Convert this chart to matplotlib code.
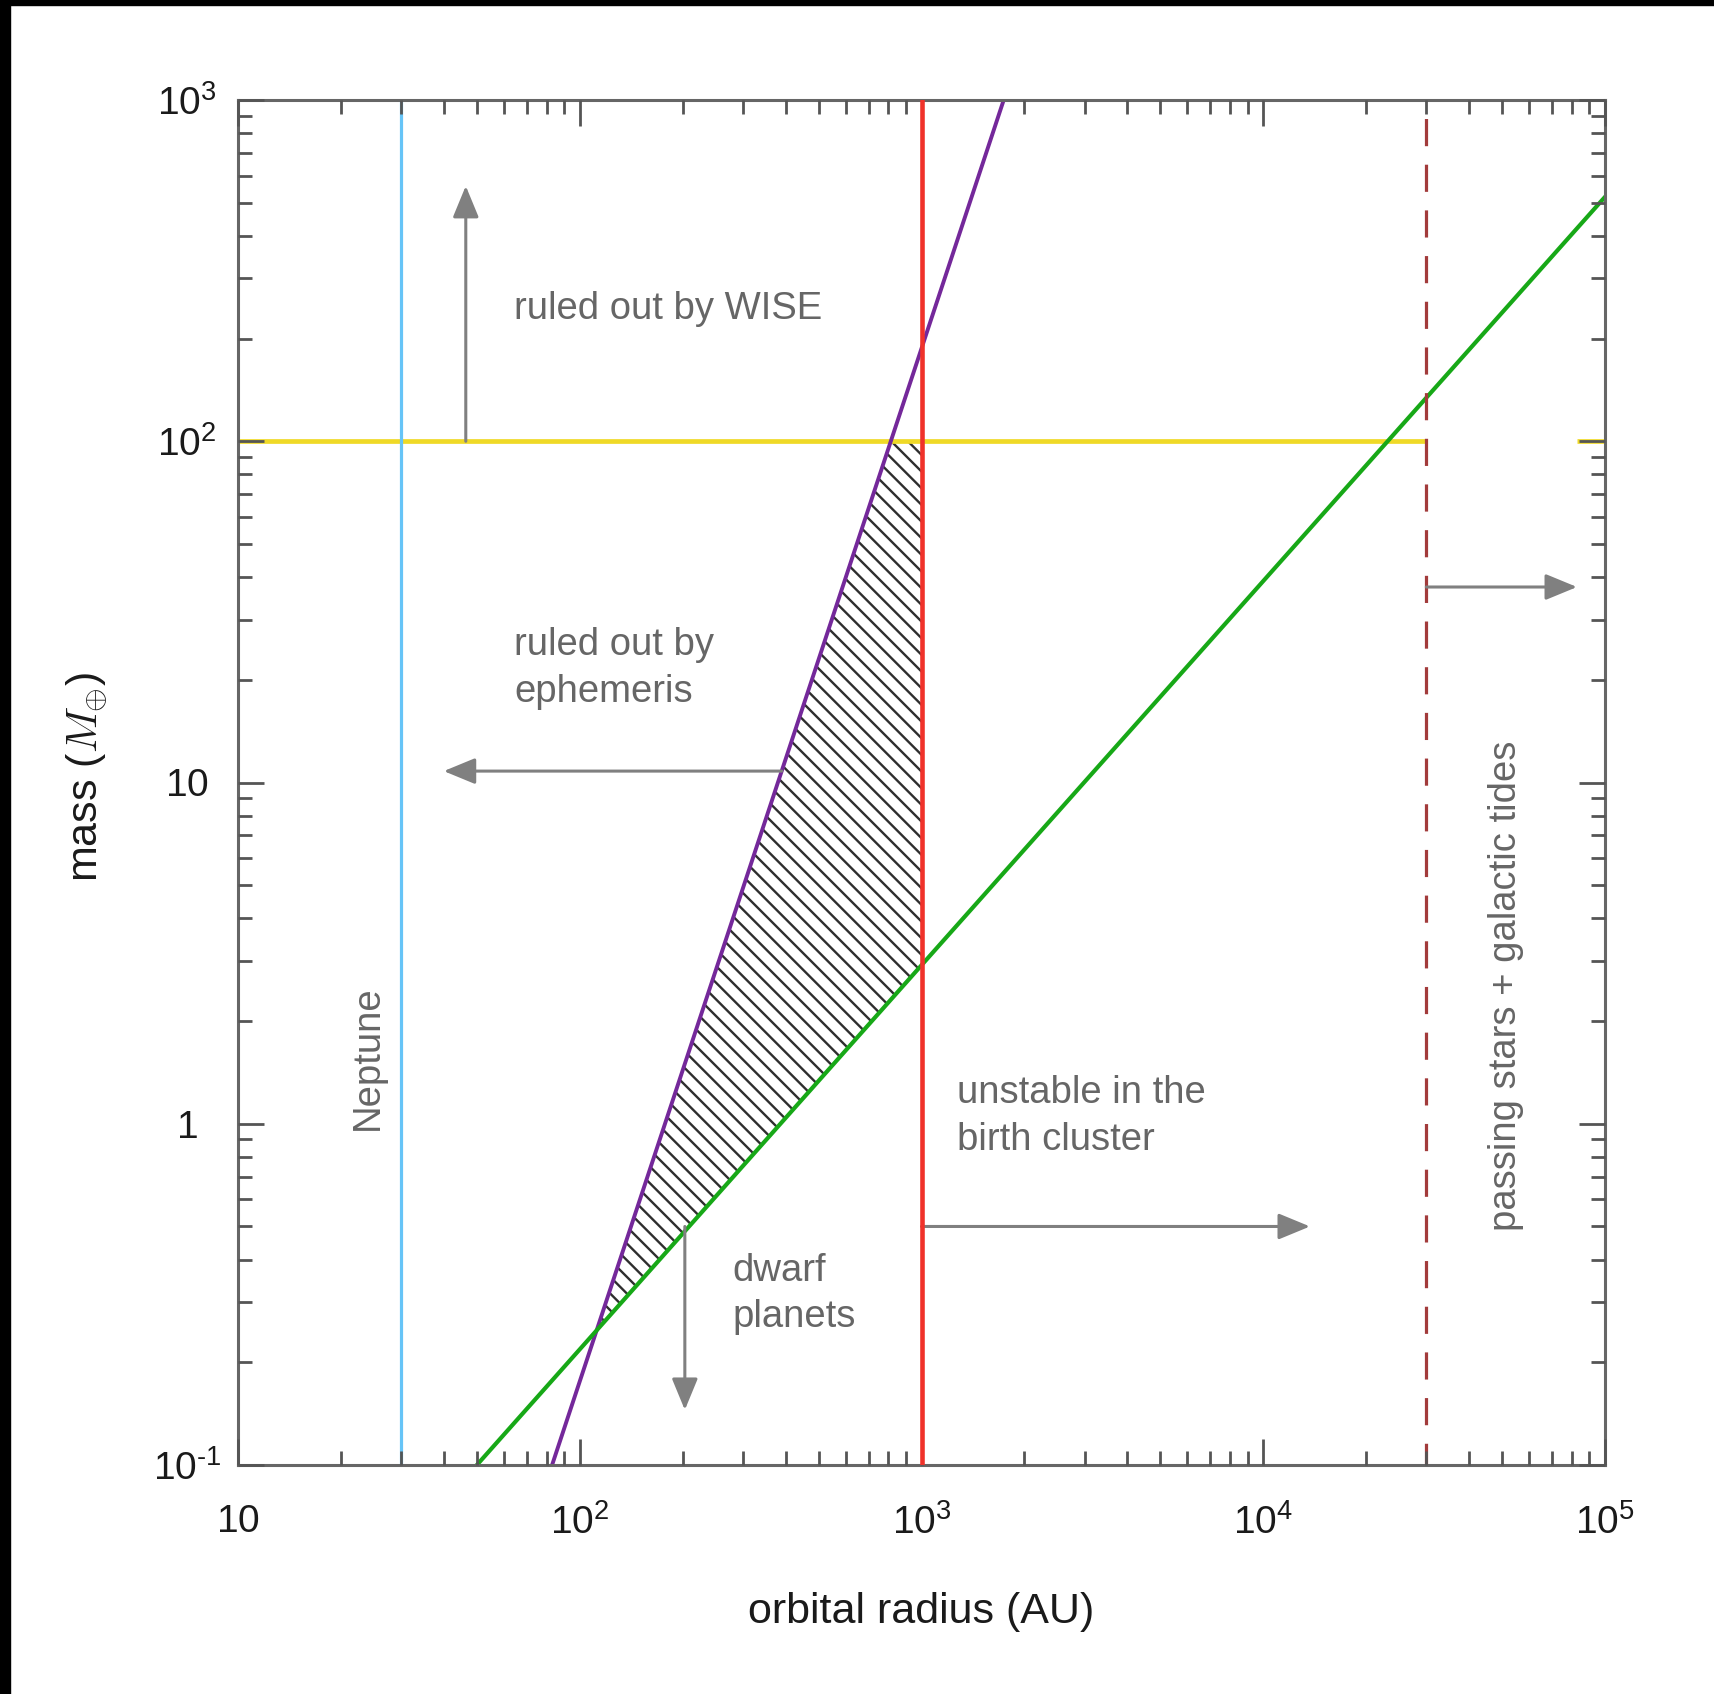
import numpy as np
import matplotlib
matplotlib.use('Agg')
from matplotlib import pyplot as plt
from matplotlib.patches import Rectangle

plt.rcParams['font.family'] = ['Liberation Sans', 'DejaVu Sans']
plt.rcParams['mathtext.fontset'] = 'custom'
plt.rcParams['mathtext.rm'] = 'Liberation Sans'
plt.rcParams['mathtext.it'] = 'Liberation Sans:italic'
plt.rcParams['hatch.linewidth'] = 1.7
plt.rcParams['hatch.color'] = '#2e2e2e'

# tick positions and labels
x_ticks = [10, 1e2, 1e3, 1e4, 1e5]
x_tick_labels = ['$10$', '$10^2$', '$10^3$', '$10^4$', '$10^5$']
y_ticks = [0.1, 1, 10, 100, 1000]
y_tick_labels = [r'$10^{\text{-}1}$', '$1$', '$10$', '$10^2$', '$10^3$']

# constraints: orbital radius a in AU, mass in earth masses
neptune_a = 30
wise_mass = 100
wise_a = [10, 3e4]
wise_stub_a = [8.3e4, 1e5]
cluster_a = 1000
tides_a = 3e4
ephemeris_a = [83, 1740]
ephemeris_m = [0.1, 1000]
dwarf_a = [50, 1e5]
dwarf_m = [0.1, 520]

# arrows (tail, tip)
wise_arrow = [(46.4, 100), (46.4, 560)]
ephemeris_arrow = [(390, 10.8), (40, 10.8)]
dwarf_arrow = [(203, 0.5), (203, 0.145)]
cluster_arrow = [(1000, 0.5), (13700, 0.5)]
tides_arrow = [(3e4, 37.4), (82800, 37.4)]


def powerlaw(a, a_pts, m_pts):
    la, lm = np.log10(a_pts), np.log10(m_pts)
    slope = (lm[1] - lm[0]) / (la[1] - la[0])
    return 10 ** (lm[0] + slope * (np.log10(a) - la[0]))


fig = plt.figure(figsize=(17.14, 16.94), dpi=100)
ax = fig.add_axes([238 / 1714, 1 - 1465 / 1694, 1367 / 1714, 1365 / 1694])
ax.set_xscale('log')
ax.set_yscale('log')
ax.set_xlim(10, 1e5)
ax.set_ylim(0.1, 1000)

# allowed region between the constraints
a_grid = np.logspace(np.log10(60), np.log10(cluster_a), 600)
upper = np.minimum(powerlaw(a_grid, ephemeris_a, ephemeris_m), wise_mass)
lower = powerlaw(a_grid, dwarf_a, dwarf_m)
ax.fill_between(a_grid, lower, upper, where=upper >= lower, interpolate=True,
                facecolor='none', edgecolor='#2e2e2e', hatch='\\\\',
                linewidth=0, zorder=1)

ax.hlines(wise_mass, *wise_a, color='#efd927', lw=3.4, zorder=1.5)
ax.hlines(wise_mass, *wise_stub_a, color='#efd927', lw=3.4, zorder=1.5)
ax.axvline(neptune_a, color='#66c4f7', lw=2.3, zorder=2)
line_a = np.array([10, 1e5])
ax.plot(line_a, powerlaw(line_a, ephemeris_a, ephemeris_m), color='#74289a',
        lw=2.8, zorder=2)
ax.plot(line_a, powerlaw(line_a, dwarf_a, dwarf_m), color='#17a817',
        lw=3.0, zorder=2)
ax.axvline(cluster_a, color='#f0322a', lw=3.3, zorder=3)
ax.plot([tides_a, tides_a], [1000, 0.1], color='#a23b3b', lw=2.3,
        linestyle=(8.5, (8.5, 5.8)), zorder=2.2)

arrow_props = dict(arrowstyle='-|>,head_length=0.97,head_width=0.4',
                   mutation_scale=20, color='#808080', lw=2.2,
                   shrinkA=0, shrinkB=0)
for tail, tip in [wise_arrow, ephemeris_arrow, dwarf_arrow, cluster_arrow,
                  tides_arrow]:
    ax.annotate('', xy=tip, xytext=tail, arrowprops=arrow_props, zorder=2.3)

txt = dict(color='#666666', fontsize=27.5, linespacing=1.38)
ax.text(64.2, 244, 'ruled out by WISE', ha='left', va='center', **txt)
ax.text(64.2, 21.6, 'ruled out by\nephemeris', ha='left', va='center', **txt)
ax.text(280, 0.317, 'dwarf\nplanets', ha='left', va='center', **txt)
ax.text(1266, 1.05, 'unstable in the\nbirth cluster', ha='left', va='center',
        **txt)
ax.text(51300, 2.54, 'passing stars + galactic tides', rotation=90,
        ha='center', va='center', **txt)
ax.text(24, 1.56, 'Neptune', rotation=90, ha='center', va='center', **txt)

ax.set_xticks(x_ticks, x_tick_labels)
ax.set_yticks(y_ticks, y_tick_labels)
ax.tick_params(which='both', direction='in', top=True, right=True,
               color='#555555', width=2.0)
ax.tick_params(which='major', length=19, labelsize=28, labelcolor='#1a1a1a')
ax.tick_params(which='minor', length=10)
ax.tick_params(axis='x', which='major', pad=28)
ax.tick_params(axis='y', which='major', pad=36.7)
for lab in ax.get_yticklabels():
    lab.set_horizontalalignment('center')
ax.xaxis.set_minor_formatter(plt.NullFormatter())
ax.yaxis.set_minor_formatter(plt.NullFormatter())
ax.set_axisbelow(False)
for sp in ax.spines.values():
    sp.set_color('#666666')
    sp.set_linewidth(2.2)

ax.set_xlabel('orbital radius (AU)', fontsize=31, color='#1a1a1a', labelpad=36)
ax.set_ylabel(r'mass ($M_{\oplus}$)', fontsize=31, color='#1a1a1a',
              math_fontfamily='cm')
ax.yaxis.set_label_coords(-0.094, 0.504)

# dark frame along top and left edge
fig.patches.append(Rectangle((0, 1 - 5 / 1694), 1, 5 / 1694,
                             transform=fig.transFigure, color='black'))
fig.patches.append(Rectangle((0, 0), 10 / 1714, 1,
                             transform=fig.transFigure, color='black'))

fig.savefig('out.png', dpi=100, facecolor='white')
